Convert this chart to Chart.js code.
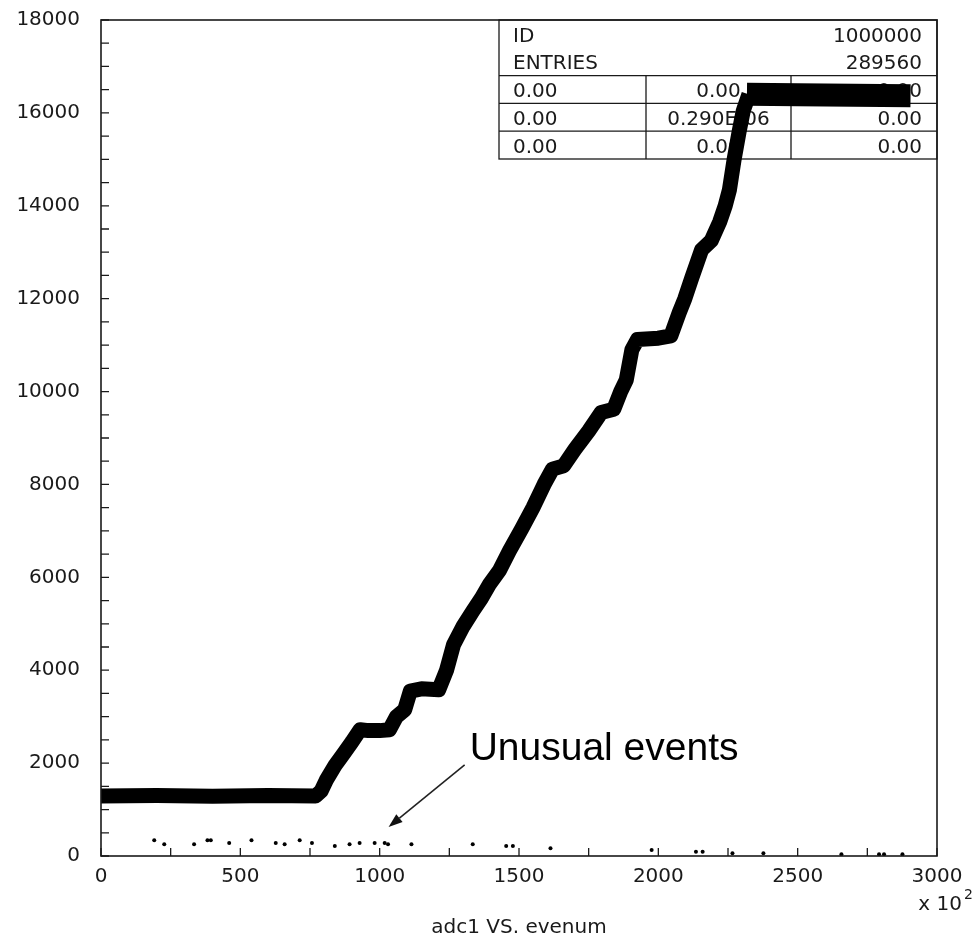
<!DOCTYPE html>
<html><head><meta charset="utf-8">
<script src="https://cdn.jsdelivr.net/npm/chart.js@4.4.1/dist/chart.umd.min.js"></script>
<style>html,body{margin:0;padding:0;background:#fff;}#wrap{width:978px;height:938px;}</style>
</head><body><div id="wrap"><canvas id="c" width="978" height="938"></canvas></div>
<script>
// ---- data ----
const bandX = [0,200,400,600,770,790,810,840,870,900,930,960,1000,1035,1060,1090,1110,1150,1212,1240,1265,1300,1335,1365,1395,1430,1466,1510,1550,1590,1620,1660,1700,1750,1795,1840,1865,1885,1905,1925,2000,2045,2075,2095,2120,2155,2190,2220,2240,2255,2272,2290,2305,2325];
const bandY = [1290,1300,1285,1300,1290,1400,1650,1950,2200,2450,2720,2700,2700,2720,3000,3150,3550,3600,3580,4000,4550,4950,5280,5550,5860,6150,6575,7050,7500,8000,8330,8400,8750,9150,9550,9620,10000,10250,10900,11120,11150,11200,11700,12000,12450,13050,13250,13650,14000,14340,15000,15600,16050,16400];
const topX = [2318, 2500, 2700, 2905];
const topY = [16400, 16390, 16380, 16370];
const eventX = [191,227,334,382,394,460,540,627,659,713,757,839,892,928,982,1018,1030,1114,1334,1454,1478,1613,1976,2135,2159,2266,2377,2657,2792,2810,2876];
const eventY = [338,252,252,338,338,280,338,280,252,338,280,216,252,280,280,280,252,252,252,216,216,166,129,92,92,58,58,36,36,36,36];
const xTickLabels = [0,500,1000,1500,2000,2500,3000];
const yTickLabels = [0,2000,4000,6000,8000,10000,12000,14000,16000,18000];
const statsRows = [
  ["ID", "", "1000000"],
  ["ENTRIES", "", "289560"],
  ["0.00", "0.00", "0.00"],
  ["0.00", "0.290E-06", "0.00"],
  ["0.00", "0.00", "0.00"]
];
const axisTitle = "adc1 VS. evenum";
const annotationText = "Unusual events";

const pts = (xs, ys) => xs.map((x, i) => ({x, y: ys[i]}));
const FONT = "'DejaVu Sans', sans-serif";
const INK = '#1a1a1a';

const decor = {
  id: 'decor',
  beforeDatasetsDraw(chart) {
    const {ctx, chartArea: a} = chart;
    ctx.save();
    const bx = a.left + 398, rh = 27.8;
    const c1 = 646, c2 = 791;
    ctx.strokeStyle = INK; ctx.lineWidth = 1.3;
    ctx.strokeRect(bx, a.top, a.right - bx, rh * 5);
    for (let i = 2; i < 5; i++) {
      ctx.beginPath(); ctx.moveTo(bx, a.top + rh * i); ctx.lineTo(a.right, a.top + rh * i); ctx.stroke();
    }
    ctx.beginPath();
    ctx.moveTo(c1, a.top + rh * 2); ctx.lineTo(c1, a.top + rh * 5);
    ctx.moveTo(c2, a.top + rh * 2); ctx.lineTo(c2, a.top + rh * 5);
    ctx.stroke();
    ctx.fillStyle = INK; ctx.font = "20px " + FONT; ctx.textBaseline = 'middle';
    statsRows.forEach((r, i) => {
      const yy = a.top + rh * (i + 0.5) + 2.5;
      ctx.textAlign = 'left'; ctx.fillText(r[0], bx + 14, yy);
      ctx.textAlign = 'center'; if (r[1]) ctx.fillText(r[1], (c1 + c2) / 2, yy);
      ctx.textAlign = 'right'; ctx.fillText(r[2], a.right - 15, yy);
    });
    ctx.restore();
  },
  afterDatasetsDraw(chart) {
    const {ctx, chartArea: a, scales: {x, y}} = chart;
    ctx.save();
    ctx.strokeStyle = INK; ctx.lineWidth = 1.6;
    ctx.strokeRect(a.left, a.top, a.right - a.left, a.bottom - a.top);
    ctx.lineWidth = 1.3;
    ctx.beginPath();
    for (let v = 0; v <= 3000; v += 250) {
      const px = x.getPixelForValue(v);
      ctx.moveTo(px, a.bottom); ctx.lineTo(px, a.bottom - 8);
    }
    for (let v = 0; v <= 18000; v += 500) {
      const py = y.getPixelForValue(v);
      ctx.moveTo(a.left, py); ctx.lineTo(a.left + 8, py);
    }
    ctx.stroke();
    ctx.fillStyle = INK; ctx.font = "20px " + FONT; ctx.textBaseline = 'middle';
    ctx.textAlign = 'center';
    ctx.fillText(axisTitle, (a.left + a.right) / 2, a.bottom + 72);
    ctx.textAlign = 'right';
    ctx.fillText("x 10", a.right + 25, a.bottom + 49);
    ctx.font = "14px " + FONT; ctx.textAlign = 'left';
    ctx.fillText("2", a.right + 27, a.bottom + 39);
    const x0 = x.getPixelForValue(1305), y0 = y.getPixelForValue(1960);
    const x1 = x.getPixelForValue(1032), y1 = y.getPixelForValue(625);
    ctx.strokeStyle = '#222'; ctx.lineWidth = 1.6;
    const ang = Math.atan2(y1 - y0, x1 - x0), L = 14, W = 5;
    const bxp = x1 - L * Math.cos(ang), byp = y1 - L * Math.sin(ang);
    ctx.beginPath(); ctx.moveTo(x0, y0); ctx.lineTo(bxp, byp); ctx.stroke();
    ctx.fillStyle = '#111';
    ctx.beginPath();
    ctx.moveTo(x1, y1);
    ctx.lineTo(bxp + W * Math.sin(ang), byp - W * Math.cos(ang));
    ctx.lineTo(bxp - W * Math.sin(ang), byp + W * Math.cos(ang));
    ctx.closePath(); ctx.fill();
    ctx.font = "39px 'Liberation Sans', Arial, sans-serif";
    ctx.textAlign = 'left'; ctx.textBaseline = 'alphabetic'; ctx.fillStyle = '#000';
    ctx.fillText(annotationText, x.getPixelForValue(1323), y.getPixelForValue(2070));
    ctx.restore();
  }
};

new Chart(document.getElementById('c'), {
  type: 'scatter',
  data: {
    datasets: [
      {type: 'line', data: pts(bandX, bandY), borderColor: '#000', borderWidth: 15, pointRadius: 0, tension: 0, borderJoinStyle: 'round', borderCapStyle: 'butt', fill: false},
      {type: 'line', data: pts(topX, topY), borderColor: '#000', borderWidth: 23, pointRadius: 0, tension: 0, borderCapStyle: 'butt', fill: false},
      {data: pts(eventX, eventY), backgroundColor: '#000', borderColor: '#000', pointRadius: 2, borderWidth: 0}
    ]
  },
  options: {
    responsive: false, animation: false, devicePixelRatio: 1,
    layout: {padding: {left: 0, right: 41, top: 20, bottom: 0}},
    plugins: {legend: {display: false}, tooltip: {enabled: false}},
    scales: {
      x: {
        type: 'linear', min: 0, max: 3000,
        afterFit(s) { s.height = 82; s.paddingLeft = 0; s.paddingRight = 0; },
        afterBuildTicks(s) { s.ticks = xTickLabels.map(v => ({value: v})); },
        grid: {display: false, drawTicks: false},
        border: {display: false},
        ticks: {padding: 9, color: INK, font: {family: FONT, size: 20}, maxRotation: 0, autoSkip: false, callback: v => String(v)}
      },
      y: {
        type: 'linear', min: 0, max: 18000,
        afterFit(s) { s.width = 101; s.paddingTop = 0; s.paddingBottom = 0; },
        afterBuildTicks(s) { s.ticks = yTickLabels.map(v => ({value: v})); },
        grid: {display: false, drawTicks: false},
        border: {display: false},
        ticks: {padding: 21, color: INK, font: {family: FONT, size: 20}, autoSkip: false, callback: v => String(v)}
      }
    }
  },
  plugins: [decor]
});
</script></body></html>
